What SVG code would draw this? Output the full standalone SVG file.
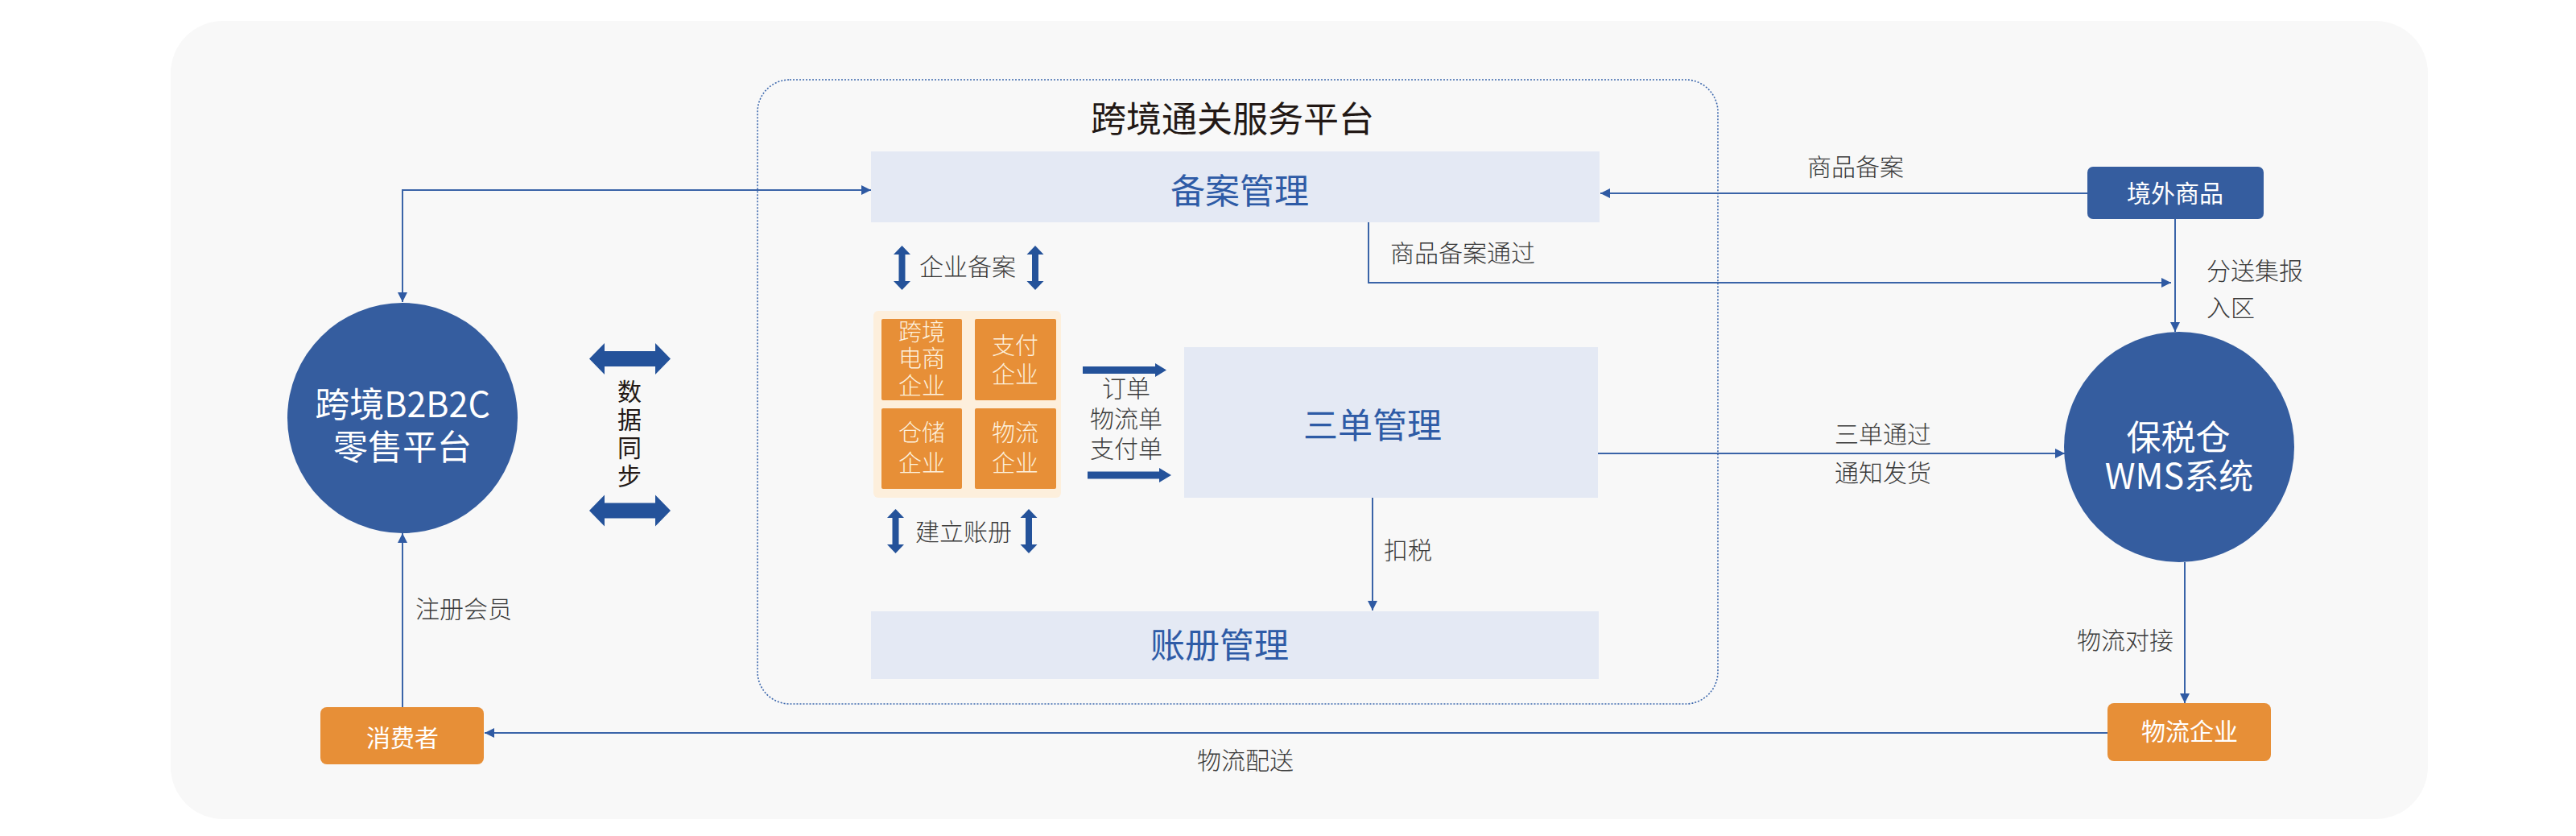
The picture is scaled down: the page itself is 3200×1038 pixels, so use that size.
<svg xmlns="http://www.w3.org/2000/svg" width="3200" height="1038" viewBox="0 0 3200 1038">
<style>
text { font-family: "Noto Sans CJK SC", "Noto Sans", sans-serif; }
.lbl { font-size: 30px; fill: #3a3a3a; font-weight: 300; }
.big { font-size: 43px; fill: #2e5ba6; text-anchor: middle; }
.white { fill: #ffffff; text-anchor: middle; }
.cell { font-size: 29px; fill: #fdf1de; text-anchor: middle; font-weight: 300; }
.panel { fill: #e4e9f4; }
.orange { fill: #e78f37; }
.blue { fill: #355d9f; }
.conn { fill: none; stroke: #3a64a8; stroke-width: 2; }
.thick { fill: #24529a; }
</style>
<defs>
<marker id="ah" markerUnits="userSpaceOnUse" viewBox="0 0 12 12" refX="12" refY="6" markerWidth="12" markerHeight="12" orient="auto-start-reverse">
<path d="M0,0 L12,6 L0,12 z" fill="#2f5aa3"/>
</marker>
<path id="dblH" d="M0,0 L19,-19.5 L19,-9.5 L82,-9.5 L82,-19.5 L101,0 L82,19.5 L82,9.5 L19,9.5 L19,19.5 z"/>
<path id="dblV" d="M0,0 L10.5,11 L4,11 L4,44 L10.5,44 L0,55 L-10.5,44 L-4,44 L-4,11 L-10.5,11 z"/>
</defs>

<rect x="212" y="26" width="2804" height="991" rx="65" fill="#f8f8f8"/>

<g id="platform">
<rect x="941" y="99" width="1193" height="775" rx="40" fill="none" stroke="#3d68ad" stroke-width="1.6" stroke-dasharray="2 2"/>
<text x="1531" y="164" font-size="44" fill="#221815" text-anchor="middle">跨境通关服务平台</text>
</g>

<g id="connectors">
<polyline class="conn" points="500,375 500,236 1082,236" marker-start="url(#ah)" marker-end="url(#ah)"/>
<line class="conn" x1="2593" y1="240" x2="1988" y2="240" marker-end="url(#ah)"/>
<polyline class="conn" points="1700,276 1700,351 2697,351" marker-end="url(#ah)"/>
<line class="conn" x1="2702" y1="272" x2="2702" y2="412" marker-end="url(#ah)"/>
<line class="conn" x1="1985" y1="563" x2="2565" y2="563" marker-end="url(#ah)"/>
<line class="conn" x1="1705" y1="618" x2="1705" y2="758" marker-end="url(#ah)"/>
<line class="conn" x1="2714" y1="698" x2="2714" y2="873" marker-end="url(#ah)"/>
<line class="conn" x1="2618" y1="910" x2="602" y2="910" marker-end="url(#ah)"/>
<line class="conn" x1="500" y1="878" x2="500" y2="662" marker-end="url(#ah)"/>
<use href="#dblH" class="thick" x="732" y="445.5"/>
<use href="#dblH" class="thick" x="732" y="634"/>
<use href="#dblV" class="thick" x="1120.5" y="305"/>
<use href="#dblV" class="thick" x="1286" y="305"/>
<use href="#dblV" class="thick" x="1112.5" y="632"/>
<use href="#dblV" class="thick" x="1278" y="632"/>
<polygon class="thick" points="1345,455 1435,455 1435,451 1449,459.5 1435,468 1435,464 1345,464"/>
<polygon class="thick" points="1351,585.5 1440,585.5 1440,581 1455,590 1440,599 1440,594.5 1351,594.5"/>
<text class="lbl" x="1727" y="325">商品备案通过</text>
<text class="lbl" x="1202" y="342" text-anchor="middle">企业备案</text>
<text class="lbl" x="1197" y="671" text-anchor="middle">建立账册</text>
<text class="lbl" x="1719" y="694">扣税</text>
<text class="lbl" x="1547" y="955" text-anchor="middle">物流配送</text>
<text class="lbl" x="2305" y="218" text-anchor="middle">商品备案</text>
<text class="lbl" x="2741" y="347">分送集报</text>
<text class="lbl" x="2741" y="393">入区</text>
<text class="lbl" x="2339" y="550" text-anchor="middle">三单通过</text>
<text class="lbl" x="2339" y="598" text-anchor="middle">通知发货</text>
<text class="lbl" x="2700" y="806" text-anchor="end">物流对接</text>
<text class="lbl" x="516" y="767" font-size="26">注册会员</text>
<text class="lbl" x="1399" y="493" text-anchor="middle" font-size="29">订单</text>
<text class="lbl" x="1399" y="531" text-anchor="middle" font-size="29">物流单</text>
<text class="lbl" x="1399" y="568" text-anchor="middle" font-size="29">支付单</text>
<g font-size="30" fill="#221815" text-anchor="middle">
<text x="782" y="497">数</text>
<text x="782" y="532">据</text>
<text x="782" y="567">同</text>
<text x="782" y="602">步</text>
</g>
</g>

<g id="beian">
<rect class="panel" x="1082" y="188" width="905" height="88"/>
<text class="big" x="1540" y="253">备案管理</text>
</g>

<g id="enterprises">
<rect x="1085" y="386" width="233" height="232" rx="6" fill="#fdefdc"/>
<rect class="orange" x="1095" y="396" width="100" height="101" rx="2"/>
<rect class="orange" x="1211" y="396" width="101" height="101" rx="2"/>
<rect class="orange" x="1095" y="507" width="100" height="100" rx="2"/>
<rect class="orange" x="1211" y="507" width="101" height="100" rx="2"/>
<text class="cell" x="1145" y="423">跨境</text>
<text class="cell" x="1145" y="456">电商</text>
<text class="cell" x="1145" y="490">企业</text>
<text class="cell" x="1261" y="440">支付</text>
<text class="cell" x="1261" y="476">企业</text>
<text class="cell" x="1145" y="548">仓储</text>
<text class="cell" x="1145" y="586">企业</text>
<text class="cell" x="1261" y="548">物流</text>
<text class="cell" x="1261" y="586">企业</text>
</g>

<g id="sandan">
<rect class="panel" x="1471" y="431" width="514" height="187"/>
<text class="big" x="1705" y="544">三单管理</text>
</g>

<g id="zhangce">
<rect class="panel" x="1082" y="759" width="904" height="84"/>
<text class="big" x="1515" y="817">账册管理</text>
</g>

<g id="b2b2c">
<circle class="blue" cx="500" cy="519" r="143"/>
<text class="white" x="500" y="518" font-size="43">跨境B2B2C</text>
<text class="white" x="500" y="571" font-size="43">零售平台</text>
</g>

<g id="jingwai">
<rect class="blue" x="2593" y="207" width="219" height="65" rx="7"/>
<text class="white" x="2702" y="251" font-size="30">境外商品</text>
</g>

<g id="wms">
<circle class="blue" cx="2707" cy="555" r="143"/>
<text class="white" x="2706" y="559" font-size="43">保税仓</text>
<text class="white" x="2707" y="607" font-size="43">WMS系统</text>
</g>

<g id="wuliu">
<rect class="orange" x="2618" y="873" width="203" height="72" rx="8"/>
<text class="white" x="2720" y="919" font-size="30">物流企业</text>
</g>

<g id="consumer">
<rect class="orange" x="398" y="878" width="203" height="71" rx="8"/>
<text class="white" x="500" y="927" font-size="30">消费者</text>
</g>
</svg>
